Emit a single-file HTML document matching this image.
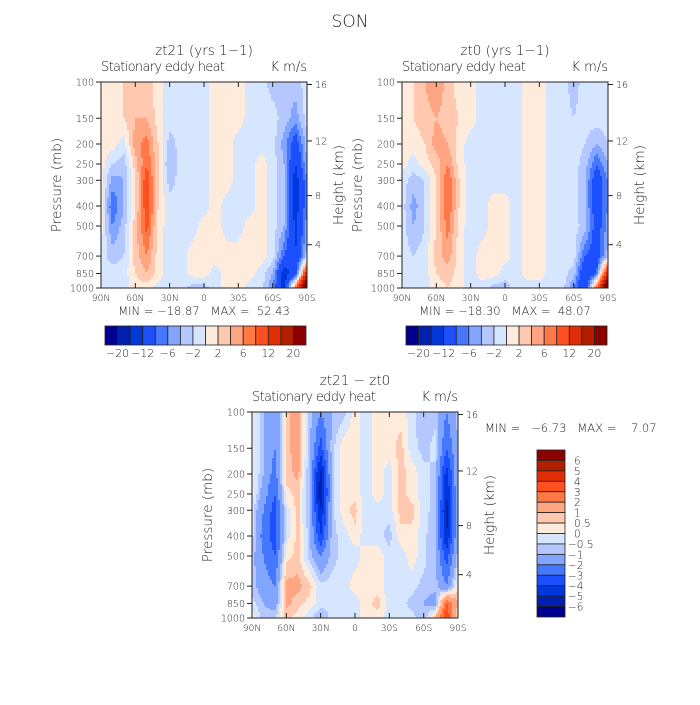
<!DOCTYPE html>
<html><head><meta charset="utf-8">
<style>
html,body{margin:0;padding:0;background:#fff;}
svg text{font-family:"DejaVu Sans","Liberation Sans",sans-serif;fill:#222;white-space:pre;font-weight:300;}
</style></head>
<body>
<svg id="chart" width="700" height="700" viewBox="0 0 700 700" xmlns="http://www.w3.org/2000/svg">
<rect width="700" height="700" fill="#fff"/>
<text x="350" y="27" font-size="17" text-anchor="middle">SON</text>
</svg>
<script>
// ---- data ----
const lats = [90,80,70,60,50,40,30,20,10,0,-10,-20,-30,-40,-50,-60,-70,-80,-90];
const pressures = [100,150,200,250,300,400,500,700,850,1000];
const topLevels = [-20,-16,-12,-8,-6,-4,-2,0,2,4,6,8,12,16,20];
const topTickLabels = ["\u221220","\u221212","\u22126","\u22122","2","6","12","20"];
const diffLevels = [-6,-5,-4,-3,-2,-1,-0.5,0,0.5,1,2,3,4,5,6];
const diffTickLabels = ["6","5","4","3","2","1","0.5","0","\u22120.5","\u22121","\u22122","\u22123","\u22124","\u22125","\u22126"];
const pressureTicks = [100,150,200,250,300,400,500,700,850,1000];
const heightTicks = [4,8,12,16];
const latTickLabels = ["90N","60N","30N","0","30S","60S","90S"];
const latTicks = [90,60,30,0,-30,-60,-90];
const palette = ["#00008f","#0020b0","#0038dc","#1c50ff","#4678ff","#82a5ff","#b4c8ff","#d7e6ff","#ffebdc","#ffc8af","#ffa582","#ff7846","#ff501e","#e12d05","#b41e00","#8c0000"];

const zt21 = [
[1,1,2,4,3,1,-1,-1,-1,-1,1,1,1,-1,-1,-3,-3,-3,-1],
[1,1,2,4,4,1,-1,-1,-1,-1,1,1,1,-1,-1,-1,-3,-5,-1],
[1,1,-1,5,7,2,-3,-1,-1,-1,1,1,-1,-1,-1,-1,-5,-10,-3],
[1,-2,-3,3,8,2,-4,-1,-1,-1,1,1,-1,-1,1,-1,-4,-12,-4],
[1,-5,-4,2,10,2,-3,-1,-1,-1,1,1,-1,-1,1,-1,-4,-14,-6],
[1,-8,-4,2,10,2,-1,-1,-1,-1,1,-1,-1,-1,1,-1,-4,-14,-6],
[1,-6,-3,3,9,1,-1,-1,-1,1,1,-1,-1,1,1,-1,-4,-13,-5],
[-1,-3,-2,3,6,1,-1,-1,1,1,1,1,1,1,1,-1,-8,-12,-3],
[-1,-1,-1,2,4,1,-1,-1,1,1,-1,1,1,1,-1,-4,-14,-10,15],
[-1,-1,-1,1,1,-1,-1,-1,-3,-3,-1,1,1,-1,-1,-6,-14,8,30]];
const zt0 = [
[1,2,4,6,3,1,1,-1,-1,-1,-1,1,1,-1,-1,-3,-1,-1,-1],
[1,2,3,4,3,2,1,-1,-1,-1,-1,1,1,-1,-1,-2,-1,-1,-1],
[1,1,2,5,4,1,-1,-1,-1,-1,-1,1,1,-1,-1,-1,-2,-4,-2],
[1,-1,1,3,6,1,-1,-1,-1,-1,-1,1,1,-1,-1,-1,-3,-8,-4],
[-1,-3,-2,2,8,2,-1,-1,-1,-1,-1,1,1,-1,-1,-1,-4,-10,-6],
[-1,-5,-2,2,8,2,-1,-1,1,1,-1,1,1,-1,-1,-1,-4,-10,-6],
[-1,-4,-2,2,7,1,-1,-1,1,1,-1,1,1,-1,-1,-1,-3,-10,-5],
[-1,-2,-1,3,5,1,-1,1,1,1,-1,1,1,-1,-1,-1,-8,-10,-3],
[-1,-1,-1,2,3,1,-1,1,1,-1,-1,1,1,-1,-1,-3,-12,-8,15],
[-1,-1,-1,1,2,1,-1,-1,-3,-3,-1,-1,-1,-1,-1,-6,-12,8,30]];
const zdiff = [
[0.3,-1,-2,0.7,1.5,-0.7,-2,-1,-0.7,0.3,-0.3,0.3,0.3,0.3,-0.3,-1,-0.7,-2,-0.7],
[0.3,-1,-2,0.7,1.5,-0.7,-3.5,-0.7,0.3,0.3,-0.3,0.3,0.3,0.7,-0.3,-0.7,-0.3,-3,-1],
[0.3,-1,-2.5,0.7,1.2,-1,-5.5,-0.7,0.3,0.3,-0.3,0.3,-0.3,0.7,0.3,-0.3,-0.7,-4.5,-1],
[0.3,-1.5,-3,0.3,0.7,-1,-6,-0.7,0.3,0.3,-0.3,0.3,-0.3,0.7,0.3,-0.3,-0.7,-5,-1],
[-0.3,-2,-3.5,-0.3,0.7,-1,-5,-0.7,0.3,0.7,-0.3,-0.3,-0.3,0.7,0.7,-0.3,-0.7,-5.5,-1],
[-0.3,-2.5,-3.5,-0.3,0.7,-0.7,-4,-0.7,-0.3,0.3,-0.3,-0.3,-0.7,0.3,0.3,-0.3,-1,-5,-1],
[-0.7,-2,-3,0.3,0.7,-0.7,-2,-0.7,-0.3,-0.3,0.3,0.3,-0.3,-0.3,0.3,-0.3,-1,-3.5,-0.7],
[-0.7,-1.5,-2,1.2,1.2,0.7,-0.3,-0.3,-0.3,0.3,0.3,0.3,-0.3,-0.3,-0.3,-0.7,-0.7,-2,0.3],
[-0.3,-1,-1.5,1.2,0.7,0.3,-0.3,-0.3,-0.3,-0.3,0.3,0.7,-0.3,-0.3,-0.7,-1,-1.5,3,1],
[0.3,-0.7,-0.5,0.7,0.3,-0.3,-1,-0.3,-0.3,-0.3,0.3,0.3,-0.3,-0.3,-0.3,-1,1,4,0.3]];

const NS="http://www.w3.org/2000/svg";
const svg=document.getElementById('chart');
function mk(tag,attrs,parent){const e=document.createElementNS(NS,tag);for(const k in attrs)e.setAttribute(k,attrs[k]);(parent||svg).appendChild(e);return e;}
function txt(s,x,y,size,anchor,parent,rot){const t=mk('text',{x:x,y:y,'font-size':size,'text-anchor':anchor||'start'},parent);if(rot)t.setAttribute('transform','rotate(-90 '+x+' '+y+')');t.textContent=s;return t;}

function classify(v,levels){let i=0;while(i<levels.length&&v>levels[i])i++;return i;}
function interp(data,lat,p){
  let fx=(90-lat)/10; fx=Math.max(0,Math.min(lats.length-1.0001,fx));
  const lp=Math.log10(p);
  let j=0; while(j<pressures.length-2 && Math.log10(pressures[j+1])<lp) j++;
  const l0=Math.log10(pressures[j]),l1=Math.log10(pressures[j+1]);
  let fy=(lp-l0)/(l1-l0); fy=Math.max(0,Math.min(1,fy));
  const i=Math.floor(fx),tx=fx-i;
  const a=data[j][i]*(1-tx)+data[j][i+1]*tx;
  const b=data[j+1][i]*(1-tx)+data[j+1][i+1]*tx;
  return a*(1-fy)+b*fy;
}
function stdPressure(h){return h<=11?1013.25*Math.pow(1-h/44.33,5.256):226.3*Math.exp(-(h-11)/6.34);}

function panel(opts){
  const L=opts.left,T=opts.top,W=206,H=206;
  const g=mk('g',{});
  
  
  const xLat=lat=>L+(90-lat)/180*W;
  const yP=p=>T+(Math.log10(p)-2)*H;
  const pOfY=y=>Math.pow(10,2+(y-T)/H);
  const fg=mk('g',{},g);
  
  
  const step=2;
  for(let y=T;y<T+H;y+=step){
    const p=pOfY(y+step/2);
    let runStart=L,runCol=null;
    for(let x=L;x<=L+W;x+=step){
      let col=null;
      if(x<L+W){const lat=90-(x+step/2-L)/W*180;col=palette[classify(interp(opts.data,lat,p),opts.levels)];}
      if(col!==runCol){
        if(runCol!==null){const r=mk('rect',{x:runStart,y:y,width:Math.min(x,L+W)-runStart+0.5,height:step+0.5,fill:runCol},fg);
          
          }
        runStart=x;runCol=col;
      }
    }
  }
  const fr=mk('rect',{x:L,y:T,width:W,height:H,fill:'none',stroke:'#222','stroke-width':1},g);
  
  
  pressureTicks.forEach(p=>{const y=yP(p);mk('line',{x1:L-5,x2:L,y1:y,y2:y,stroke:'#222'},g);
    const t=txt(String(p),L-7,y+3.5,9.5,'end',g);
    
    });
  heightTicks.forEach(h=>{const y=yP(stdPressure(h));mk('line',{x1:L+W,x2:L+W+5,y1:y,y2:y,stroke:'#222'},g);
    const t=txt(String(h),L+W+8,y+3.5,9.5,'start',g);
    
    });
  latTicks.forEach((lat,k)=>{const x=xLat(lat);mk('line',{x1:x,x2:x,y1:T+H,y2:T+H-5,stroke:'#222'},g);mk('line',{x1:x,x2:x,y1:T,y2:T+5,stroke:'#222'},g);
    const t=txt(latTickLabels[k],x,T+H+13,9,'middle',g);
    
    });
  const a=txt('Pressure (mb)',L-40,T+H/2,13.5,'middle',g,true);
  
  
  const b=txt('Height (km)',L+W+36,T+H/2,13.5,'middle',g,true);
  
  
  const c=txt(opts.title,L+W/2,T-27,13.5,'middle',g);
  
  
  const d=txt('Stationary eddy heat',L,T-11,13,'start',g);
  d.setAttribute('textLength','124');
  
  
  const e=txt('K m/s',L+W,T-11,13,'end',g);
  
  
  if(opts.minmax){const m=txt(opts.minmax,L+W/2,T+H+27,11.5,'middle',g);
    
    }
}

function hbar(L,T,name){
  const g=mk('g',{});
  
  
  const W=201,Hh=19,bw=W/palette.length;
  palette.forEach((c,i)=>{const r=mk('rect',{x:L+i*bw,y:T,width:bw,height:Hh,fill:c,stroke:'#222','stroke-width':0.8},g);
    
    });
  topTickLabels.forEach((s,k)=>{const t=txt(s,L+(2*k+1)*bw,T+Hh+12,11,'middle',g);
    
    });
}
function vbar(L,T,name){
  const g=mk('g',{});
  
  
  const W=28,Ht=167,bh=Ht/palette.length;
  palette.slice().reverse().forEach((c,i)=>{const r=mk('rect',{x:L,y:T+i*bh,width:W,height:bh,fill:c,stroke:'#222','stroke-width':0.8},g);
    
    });
  diffTickLabels.forEach((s,k)=>{const t=txt(s,L+W+(s.startsWith('\u2212')?3:9),T+(k+1)*bh+4,10.5,'start',g);
    
    });
}

panel({left:101,top:82,data:zt21,levels:topLevels,title:'zt21 (yrs 1\u22121)',minmax:'MIN = \u221218.87   MAX =  52.43',name:'panel-zt21'});
panel({left:402,top:82,data:zt0,levels:topLevels,title:'zt0 (yrs 1\u22121)',minmax:'MIN = \u221218.30   MAX =  48.07',name:'panel-zt0'});
panel({left:252,top:412,data:zdiff,levels:diffLevels,title:'zt21 \u2212 zt0',minmax:null,name:'panel-difference'});
hbar(105,326,'colorbar-zt21');
hbar(406,326,'colorbar-zt0');
vbar(537,450,'colorbar-difference');
const mm=txt('MIN =   \u22126.73   MAX =    7.07',485,432,11.5,'start');


</script>
</body></html>
